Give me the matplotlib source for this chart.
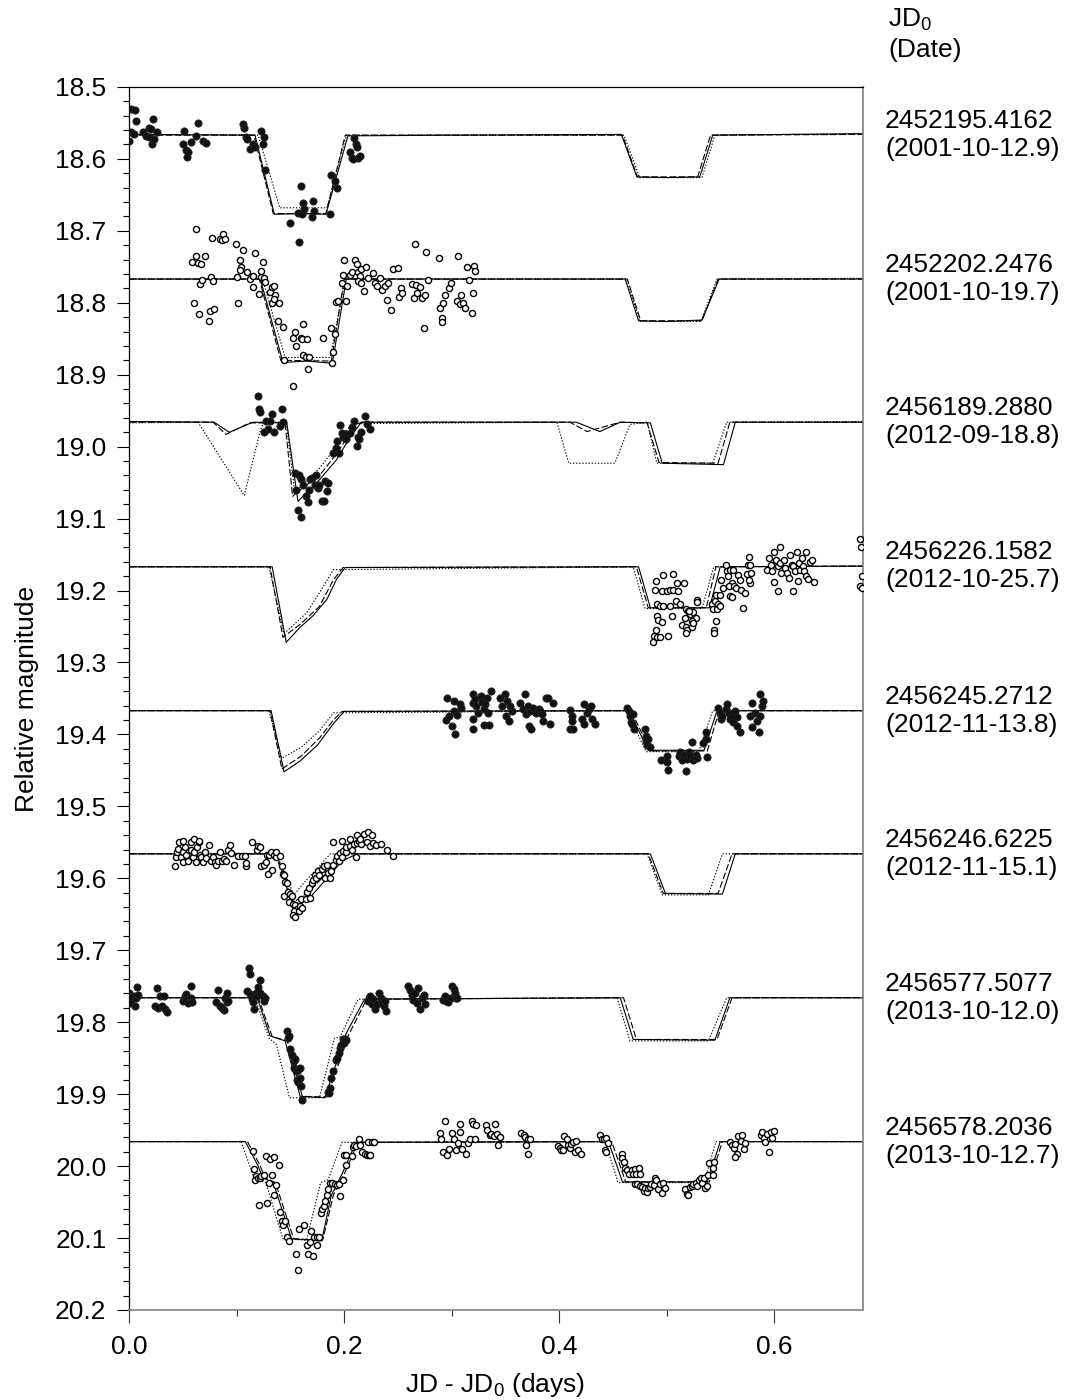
"""
Light curves of the eclipsing system on eight nights, stacked with a
0.2 mag offset, with three model fits (solid, dashed, dotted) on each.
"""
import matplotlib
matplotlib.use("Agg")
import matplotlib.pyplot as plt
import matplotlib.transforms as mtransforms
from matplotlib.ticker import MultipleLocator, FixedLocator, FormatStrFormatter

plt.rcParams["font.family"] = ["Liberation Sans", "DejaVu Sans"]
plt.rcParams["mathtext.fontset"] = "custom"
plt.rcParams["mathtext.rm"] = "Liberation Sans"
plt.rcParams["mathtext.it"] = "Liberation Sans:italic"

X_MAX = 0.6826

# nights: reference epoch and calendar date, and the out-of-eclipse level
JD0 = ["2452195.4162", "2452202.2476", "2456189.2880", "2456226.1582",
       "2456245.2712", "2456246.6225", "2456577.5077", "2456578.2036"]
DATES = ["2001-10-12.9", "2001-10-19.7", "2012-09-18.8", "2012-10-25.7",
         "2012-11-13.8", "2012-11-15.1", "2013-10-12.0", "2013-10-12.7"]
BASELINES = [18.567, 18.767, 18.966, 19.166, 19.367, 19.566, 19.766, 19.966]
FILLED = [True, False, True, False, True, False, True, False]

# ---------------------------------------------------------------------------
# model light curves (x = JD - JD0, y = magnitude)
# ---------------------------------------------------------------------------
P1_SOLID = [(0, 18.566), (0.117, 18.567), (0.135, 18.677), (0.160, 18.676), (0.183, 18.677),
            (0.2035, 18.568), (0.30, 18.567), (0.458, 18.566), (0.4724, 18.625), (0.50, 18.626),
            (0.531, 18.625), (0.543, 18.567), (X_MAX, 18.565)]
P1_DASHED = [(0, 18.567), (0.116, 18.567), (0.134, 18.676), (0.183, 18.676), (0.201, 18.567),
             (0.459, 18.567), (0.473, 18.625), (0.529, 18.625), (0.541, 18.567), (X_MAX, 18.566)]
P1_DOTTED = [(0, 18.566), (0.120, 18.567), (0.140, 18.668), (0.184, 18.668), (0.202, 18.567),
             (0.4605, 18.567), (0.475, 18.626), (0.533, 18.626), (0.545, 18.567), (X_MAX, 18.565)]

P2_SOLID = [(0, 18.767), (0.122, 18.767), (0.143, 18.883), (0.165, 18.881), (0.189, 18.884),
            (0.202, 18.767), (0.4615, 18.767), (0.474, 18.825), (0.50, 18.826), (0.533, 18.824),
            (0.549, 18.767), (X_MAX, 18.767)]
P2_DASHED = [(0, 18.767), (0.121, 18.767), (0.141, 18.880), (0.188, 18.881), (0.200, 18.767),
             (0.4635, 18.767), (0.476, 18.825), (0.533, 18.825), (0.548, 18.767), (X_MAX, 18.767)]
P2_DOTTED = [(0, 18.767), (0.124, 18.767), (0.145, 18.876), (0.187, 18.876), (0.201, 18.767),
             (0.463, 18.767), (0.475, 18.826), (0.532, 18.826), (0.547, 18.767), (X_MAX, 18.766)]

P3_SOLID = [(0, 18.965), (0.079, 18.966), (0.093, 18.980), (0.115, 18.966), (0.1466, 18.967),
            (0.157, 19.076), (0.177, 19.046), (0.193, 19.018), (0.205, 18.988), (0.216, 18.966),
            (0.416, 18.966), (0.438, 18.979), (0.457, 18.966), (0.485, 18.967), (0.496, 19.023),
            (0.553, 19.025), (0.564, 18.966), (X_MAX, 18.966)]
P3_DASHED = [(0, 18.966), (0.078, 18.966), (0.090, 18.983), (0.112, 18.967), (0.145, 18.967),
             (0.152, 19.069), (0.159, 19.060), (0.177, 19.040), (0.193, 19.010), (0.210, 18.970),
             (0.216, 18.966), (0.410, 18.966), (0.426, 18.979), (0.457, 18.966), (0.482, 18.967),
             (0.493, 19.022), (0.548, 19.023), (0.559, 18.966), (X_MAX, 18.966)]
P3_DOTTED = [(0, 18.967), (0.064, 18.966), (0.107, 19.068), (0.1217, 18.979), (0.125, 18.966),
             (0.146, 18.966), (0.154, 19.063), (0.177, 19.030), (0.189, 19.007), (0.207, 18.968),
             (0.398, 18.966), (0.409, 19.023), (0.452, 19.023), (0.466, 18.969), (0.482, 18.966),
             (0.491, 19.023), (0.543, 19.023), (0.556, 18.966), (X_MAX, 18.965)]

P4_SOLID = [(0, 19.167), (0.133, 19.167), (0.146, 19.272), (0.159, 19.251), (0.171, 19.235),
            (0.184, 19.212), (0.193, 19.184), (0.201, 19.168), (0.474, 19.167), (0.485, 19.224),
            (0.540, 19.224), (0.550, 19.167), (X_MAX, 19.166)]
P4_DASHED = [(0, 19.167), (0.131, 19.167), (0.143, 19.265), (0.159, 19.247), (0.177, 19.222),
             (0.190, 19.185), (0.199, 19.168), (0.472, 19.167), (0.483, 19.224), (0.537, 19.224),
             (0.546, 19.167), (X_MAX, 19.166)]
P4_DOTTED = [(0, 19.167), (0.130, 19.167), (0.144, 19.260), (0.165, 19.231), (0.177, 19.203),
             (0.190, 19.171), (0.469, 19.167), (0.480, 19.225), (0.533, 19.225), (0.544, 19.167),
             (X_MAX, 19.166)]

P5_SOLID = [(0, 19.367), (0.132, 19.367), (0.144, 19.452), (0.159, 19.437), (0.175, 19.415),
            (0.190, 19.385), (0.200, 19.368), (0.465, 19.367), (0.483, 19.422), (0.535, 19.422),
            (0.547, 19.367), (X_MAX, 19.367)]
P5_DASHED = [(0, 19.367), (0.131, 19.367), (0.142, 19.448), (0.160, 19.430), (0.177, 19.405),
             (0.190, 19.380), (0.198, 19.368), (0.467, 19.367), (0.485, 19.423), (0.538, 19.423),
             (0.549, 19.367), (X_MAX, 19.367)]
P5_DOTTED = [(0, 19.367), (0.130, 19.367), (0.142, 19.433), (0.160, 19.418), (0.177, 19.395),
             (0.190, 19.370), (0.463, 19.367), (0.481, 19.424), (0.530, 19.424), (0.543, 19.367),
             (X_MAX, 19.367)]

P6_SOLID = [(0, 19.566), (0.137, 19.566), (0.143, 19.593), (0.149, 19.627), (0.154, 19.640),
            (0.168, 19.627), (0.184, 19.600), (0.198, 19.576), (0.212, 19.566), (0.485, 19.566),
            (0.499, 19.621), (0.552, 19.622), (0.564, 19.566), (X_MAX, 19.566)]
P6_DASHED = [(0, 19.566), (0.136, 19.566), (0.145, 19.605), (0.153, 19.633), (0.168, 19.618),
             (0.184, 19.592), (0.197, 19.572), (0.205, 19.566), (0.483, 19.566), (0.497, 19.621),
             (0.548, 19.621), (0.561, 19.566), (X_MAX, 19.566)]
P6_DOTTED = [(0, 19.566), (0.137, 19.566), (0.147, 19.602), (0.153, 19.623), (0.165, 19.602),
             (0.177, 19.583), (0.187, 19.566), (0.482, 19.566), (0.496, 19.623), (0.539, 19.623),
             (0.552, 19.566), (X_MAX, 19.566)]

P7_SOLID = [(0, 19.766), (0.119, 19.766), (0.131, 19.819), (0.145, 19.826), (0.159, 19.903),
            (0.182, 19.905), (0.202, 19.815), (0.219, 19.768), (0.457, 19.766), (0.469, 19.824),
            (0.545, 19.825), (0.559, 19.766), (X_MAX, 19.766)]
P7_DASHED = [(0, 19.766), (0.120, 19.766), (0.133, 19.820), (0.147, 19.826), (0.161, 19.903),
             (0.184, 19.904), (0.204, 19.818), (0.221, 19.768), (0.460, 19.766), (0.472, 19.824),
             (0.547, 19.824), (0.561, 19.766), (X_MAX, 19.766)]
P7_DOTTED = [(0, 19.766), (0.117, 19.766), (0.130, 19.822), (0.137, 19.831), (0.149, 19.905),
             (0.177, 19.905), (0.191, 19.822), (0.196, 19.821), (0.213, 19.768), (0.454, 19.766),
             (0.466, 19.826), (0.539, 19.826), (0.556, 19.766), (X_MAX, 19.766)]

P8_SOLID = [(0, 19.966), (0.108, 19.966), (0.120, 20.000), (0.124, 20.016), (0.134, 20.023),
            (0.151, 20.101), (0.179, 20.104), (0.188, 20.041), (0.192, 20.029), (0.198, 20.011),
            (0.211, 19.967), (0.446, 19.966), (0.459, 20.022), (0.538, 20.022), (0.550, 19.966),
            (X_MAX, 19.966)]
P8_DASHED = [(0, 19.966), (0.110, 19.966), (0.122, 20.000), (0.126, 20.016), (0.136, 20.023),
             (0.153, 20.101), (0.180, 20.103), (0.190, 20.040), (0.194, 20.028), (0.200, 20.011),
             (0.213, 19.967), (0.449, 19.966), (0.462, 20.022), (0.540, 20.022), (0.552, 19.966),
             (X_MAX, 19.966)]
P8_DOTTED = [(0, 19.966), (0.104, 19.966), (0.116, 20.016), (0.127, 20.023), (0.143, 20.101),
             (0.165, 20.103), (0.178, 20.023), (0.185, 20.019), (0.198, 19.967), (0.443, 19.966),
             (0.455, 20.023), (0.535, 20.023), (0.546, 19.966), (X_MAX, 19.966)]

# ---------------------------------------------------------------------------
# photometry (x = JD - JD0, y = magnitude)
# ---------------------------------------------------------------------------
P1_DATA = [(0.000, 18.575), (0.002, 18.531), (0.005, 18.532), (0.002, 18.562), (0.006, 18.548),
           (0.004, 18.566), (0.013, 18.563), (0.016, 18.568), (0.018, 18.557), (0.020, 18.558),
           (0.022, 18.545), (0.021, 18.580), (0.023, 18.573), (0.026, 18.563), (0.018, 18.569),
           (0.050, 18.579), (0.051, 18.561), (0.053, 18.587), (0.055, 18.590), (0.054, 18.598),
           (0.057, 18.577), (0.062, 18.568), (0.064, 18.550), (0.069, 18.575), (0.071, 18.578),
           (0.106, 18.551), (0.107, 18.557), (0.109, 18.569), (0.110, 18.573), (0.112, 18.586),
           (0.115, 18.579), (0.117, 18.583), (0.123, 18.561), (0.125, 18.570), (0.124, 18.580),
           (0.126, 18.615), (0.150, 18.689), (0.160, 18.637), (0.157, 18.675), (0.162, 18.661),
           (0.161, 18.677), (0.163, 18.670), (0.158, 18.715), (0.170, 18.681), (0.171, 18.658),
           (0.172, 18.672), (0.187, 18.676), (0.188, 18.622), (0.191, 18.631), (0.193, 18.641),
           (0.205, 18.591), (0.207, 18.599), (0.209, 18.571), (0.211, 18.580), (0.212, 18.583),
           (0.213, 18.599), (0.215, 18.596), (0.208, 18.600)]

P2_DATA = [(0.0625, 18.697), (0.0586, 18.744), (0.062, 18.735), (0.064, 18.745), (0.067, 18.746),
           (0.070, 18.735), (0.066, 18.774), (0.068, 18.769), (0.076, 18.764), (0.078, 18.770),
           (0.060, 18.800), (0.065, 18.815), (0.074, 18.825), (0.075, 18.812), (0.079, 18.809),
           (0.077, 18.710), (0.084, 18.711), (0.086, 18.713), (0.087, 18.705), (0.089, 18.711),
           (0.099, 18.719), (0.101, 18.800), (0.100, 18.764), (0.103, 18.740), (0.106, 18.727),
           (0.104, 18.750), (0.103, 18.754), (0.110, 18.757), (0.112, 18.767), (0.115, 18.763),
           (0.115, 18.778), (0.117, 18.731), (0.121, 18.788), (0.123, 18.764), (0.123, 18.756),
           (0.124, 18.743), (0.125, 18.766), (0.126, 18.771), (0.131, 18.785), (0.133, 18.778),
           (0.135, 18.776), (0.133, 18.801), (0.136, 18.789), (0.135, 18.795), (0.139, 18.800),
           (0.138, 18.826), (0.143, 18.834), (0.152, 18.849), (0.154, 18.841), (0.155, 18.860),
           (0.162, 18.829), (0.160, 18.849), (0.161, 18.851), (0.165, 18.850), (0.144, 18.879),
           (0.162, 18.873), (0.164, 18.876), (0.167, 18.876), (0.166, 18.892), (0.152, 18.916),
           (0.180, 18.849), (0.188, 18.835), (0.191, 18.843), (0.190, 18.869), (0.189, 18.884),
           (0.192, 18.799), (0.194, 18.798), (0.202, 18.798), (0.198, 18.773), (0.199, 18.761),
           (0.200, 18.740), (0.203, 18.777), (0.205, 18.761), (0.207, 18.757), (0.210, 18.740),
           (0.212, 18.746), (0.213, 18.757), (0.215, 18.763), (0.216, 18.753), (0.213, 18.770),
           (0.216, 18.772), (0.218, 18.784), (0.220, 18.750), (0.222, 18.766), (0.227, 18.758),
           (0.229, 18.772), (0.231, 18.776), (0.233, 18.766), (0.235, 18.782), (0.238, 18.777),
           (0.240, 18.796), (0.241, 18.772), (0.244, 18.810), (0.245, 18.753), (0.250, 18.752),
           (0.251, 18.792), (0.253, 18.780), (0.254, 18.786), (0.263, 18.774), (0.265, 18.793),
           (0.266, 18.718), (0.267, 18.775), (0.268, 18.786), (0.271, 18.778), (0.272, 18.793),
           (0.274, 18.835), (0.275, 18.789), (0.276, 18.730), (0.278, 18.769), (0.288, 18.738),
           (0.289, 18.807), (0.291, 18.821), (0.291, 18.827), (0.292, 18.800), (0.294, 18.789),
           (0.298, 18.780), (0.299, 18.772), (0.306, 18.735), (0.305, 18.798), (0.308, 18.802),
           (0.309, 18.789), (0.311, 18.800), (0.312, 18.807), (0.314, 18.750), (0.316, 18.769),
           (0.319, 18.814), (0.320, 18.786), (0.321, 18.749), (0.322, 18.756)]

P3_DATA = [(0.120, 18.929), (0.121, 18.947), (0.122, 18.952), (0.127, 18.965), (0.129, 18.976),
           (0.125, 18.979), (0.131, 18.965), (0.133, 18.955), (0.135, 18.980), (0.140, 18.971),
           (0.142, 18.948), (0.143, 18.966), (0.154, 19.037), (0.155, 19.060), (0.158, 19.039),
           (0.160, 19.045), (0.162, 19.053), (0.157, 19.088), (0.160, 19.098), (0.164, 19.069),
           (0.166, 19.077), (0.167, 19.060), (0.168, 19.045), (0.170, 19.043), (0.174, 19.039),
           (0.173, 19.053), (0.176, 19.058), (0.177, 19.053), (0.179, 19.075), (0.181, 19.075),
           (0.182, 19.048), (0.185, 19.050), (0.184, 19.062), (0.190, 19.009), (0.192, 19.002),
           (0.193, 18.992), (0.195, 19.009), (0.196, 18.970), (0.198, 18.981), (0.199, 18.986),
           (0.201, 18.983), (0.202, 18.989), (0.205, 18.981), (0.207, 18.972), (0.209, 18.964),
           (0.212, 18.999), (0.213, 18.986), (0.214, 18.989), (0.216, 18.980), (0.219, 18.958),
           (0.221, 18.968), (0.224, 18.975)]

P4_DATA = [(0.490, 19.255), (0.488, 19.263), (0.487, 19.271), (0.491, 19.264), (0.494, 19.264),
           (0.501, 19.263), (0.491, 19.235), (0.492, 19.241), (0.496, 19.244), (0.491, 19.219),
           (0.494, 19.222), (0.497, 19.221), (0.503, 19.222), (0.505, 19.235), (0.490, 19.187),
           (0.497, 19.178), (0.506, 19.177), (0.496, 19.201), (0.500, 19.200), (0.503, 19.199),
           (0.506, 19.199), (0.510, 19.189), (0.511, 19.201), (0.516, 19.190), (0.489, 19.199),
           (0.509, 19.214), (0.513, 19.219), (0.518, 19.225), (0.520, 19.229), (0.522, 19.233),
           (0.525, 19.230), (0.527, 19.238), (0.524, 19.243), (0.517, 19.238), (0.514, 19.248),
           (0.518, 19.250), (0.519, 19.255), (0.518, 19.259), (0.524, 19.250), (0.525, 19.245),
           (0.521, 19.229), (0.528, 19.213), (0.528, 19.216), (0.544, 19.255), (0.544, 19.259),
           (0.542, 19.219), (0.543, 19.226), (0.546, 19.243), (0.547, 19.226), (0.545, 19.214),
           (0.546, 19.206), (0.548, 19.219), (0.550, 19.222), (0.550, 19.206), (0.551, 19.185),
           (0.553, 19.197), (0.555, 19.164), (0.556, 19.173), (0.557, 19.180), (0.559, 19.171),
           (0.561, 19.189), (0.562, 19.171), (0.558, 19.193), (0.559, 19.208), (0.561, 19.209),
           (0.563, 19.194), (0.565, 19.197), (0.567, 19.178), (0.568, 19.185), (0.569, 19.199),
           (0.571, 19.224), (0.573, 19.203), (0.575, 19.177), (0.576, 19.165), (0.577, 19.153),
           (0.578, 19.164), (0.579, 19.175), (0.578, 19.189), (0.577, 19.186), (0.594, 19.171),
           (0.595, 19.155), (0.597, 19.165), (0.598, 19.173), (0.600, 19.188), (0.600, 19.146),
           (0.602, 19.158), (0.604, 19.200), (0.604, 19.166), (0.606, 19.139), (0.606, 19.162),
           (0.607, 19.175), (0.609, 19.157), (0.610, 19.169), (0.612, 19.175), (0.614, 19.182),
           (0.615, 19.151), (0.617, 19.164), (0.618, 19.200), (0.618, 19.166), (0.620, 19.173),
           (0.621, 19.146), (0.622, 19.187), (0.623, 19.162), (0.624, 19.171), (0.626, 19.155),
           (0.627, 19.166), (0.628, 19.173), (0.630, 19.147), (0.630, 19.180), (0.632, 19.184),
           (0.634, 19.160), (0.635, 19.158), (0.637, 19.188), (0.680, 19.129), (0.681, 19.139),
           (0.682, 19.180), (0.680, 19.193), (0.682, 19.196)]

P5_DATA = [(0.296, 19.350), (0.295, 19.380), (0.298, 19.375), (0.300, 19.388), (0.302, 19.353),
           (0.302, 19.367), (0.303, 19.399), (0.305, 19.373), (0.308, 19.358), (0.309, 19.363),
           (0.320, 19.344), (0.320, 19.356), (0.322, 19.351), (0.323, 19.360), (0.325, 19.370),
           (0.327, 19.347), (0.328, 19.355), (0.330, 19.365), (0.331, 19.358), (0.333, 19.350),
           (0.334, 19.370), (0.337, 19.339), (0.320, 19.392), (0.320, 19.379), (0.330, 19.387),
           (0.335, 19.387), (0.345, 19.350), (0.347, 19.360), (0.350, 19.344), (0.352, 19.353),
           (0.351, 19.375), (0.353, 19.381), (0.354, 19.360), (0.356, 19.367), (0.364, 19.356),
           (0.366, 19.365), (0.368, 19.344), (0.369, 19.372), (0.371, 19.360), (0.372, 19.388),
           (0.373, 19.367), (0.374, 19.393), (0.376, 19.363), (0.379, 19.370), (0.381, 19.364),
           (0.382, 19.367), (0.384, 19.371), (0.385, 19.381), (0.388, 19.350), (0.390, 19.349),
           (0.392, 19.386), (0.394, 19.356), (0.410, 19.366), (0.412, 19.374), (0.410, 19.392),
           (0.413, 19.392), (0.412, 19.381), (0.421, 19.379), (0.423, 19.386), (0.423, 19.358),
           (0.426, 19.370), (0.428, 19.365), (0.430, 19.360), (0.431, 19.378), (0.433, 19.386),
           (0.463, 19.363), (0.465, 19.367), (0.466, 19.374), (0.467, 19.383), (0.469, 19.372),
           (0.470, 19.392), (0.468, 19.385), (0.480, 19.393), (0.481, 19.402), (0.481, 19.409),
           (0.483, 19.406), (0.482, 19.415), (0.485, 19.418), (0.495, 19.435), (0.500, 19.430),
           (0.500, 19.439), (0.501, 19.449), (0.512, 19.430), (0.513, 19.425), (0.514, 19.435),
           (0.516, 19.429), (0.519, 19.434), (0.518, 19.451), (0.521, 19.425), (0.522, 19.430),
           (0.524, 19.410), (0.525, 19.436), (0.527, 19.428), (0.528, 19.433), (0.534, 19.412),
           (0.537, 19.407), (0.538, 19.431), (0.537, 19.396), (0.548, 19.363), (0.550, 19.370),
           (0.551, 19.379), (0.552, 19.375), (0.555, 19.365), (0.556, 19.358), (0.558, 19.370),
           (0.559, 19.379), (0.561, 19.374), (0.562, 19.383), (0.564, 19.368), (0.566, 19.376),
           (0.568, 19.396), (0.566, 19.388), (0.578, 19.375), (0.580, 19.356), (0.582, 19.370),
           (0.584, 19.381), (0.586, 19.397), (0.587, 19.344), (0.589, 19.360), (0.590, 19.353),
           (0.580, 19.389), (0.587, 19.375)]

P6_DATA = [(0.0426, 19.583), (0.0435, 19.571), (0.0441, 19.564), (0.0456, 19.559), (0.0466, 19.550),
           (0.048, 19.571), (0.050, 19.577), (0.050, 19.564), (0.052, 19.556), (0.053, 19.568),
           (0.055, 19.576), (0.057, 19.550), (0.057, 19.560), (0.059, 19.571), (0.060, 19.564),
           (0.062, 19.577), (0.063, 19.557), (0.065, 19.550), (0.066, 19.567), (0.067, 19.571),
           (0.069, 19.578), (0.070, 19.563), (0.071, 19.572), (0.074, 19.554), (0.076, 19.576),
           (0.078, 19.571), (0.080, 19.578), (0.081, 19.582), (0.083, 19.576), (0.084, 19.563),
           (0.086, 19.576), (0.088, 19.573), (0.090, 19.576), (0.092, 19.561), (0.094, 19.554),
           (0.095, 19.565), (0.097, 19.581), (0.101, 19.569), (0.105, 19.569), (0.109, 19.583),
           (0.109, 19.579), (0.108, 19.569), (0.114, 19.550), (0.119, 19.561), (0.120, 19.555),
           (0.122, 19.557), (0.123, 19.583), (0.125, 19.582), (0.127, 19.578), (0.129, 19.594),
           (0.128, 19.568), (0.130, 19.567), (0.132, 19.564), (0.133, 19.589), (0.135, 19.567),
           (0.137, 19.571), (0.137, 19.563), (0.140, 19.569), (0.142, 19.583), (0.143, 19.594),
           (0.144, 19.596), (0.145, 19.605), (0.147, 19.606), (0.144, 19.624), (0.148, 19.619),
           (0.150, 19.622), (0.151, 19.625), (0.149, 19.633), (0.152, 19.636), (0.154, 19.637),
           (0.156, 19.642), (0.153, 19.646), (0.152, 19.651), (0.154, 19.654), (0.158, 19.645),
           (0.159, 19.639), (0.161, 19.641), (0.160, 19.629), (0.164, 19.629), (0.165, 19.619),
           (0.167, 19.613), (0.168, 19.627), (0.170, 19.606), (0.171, 19.602), (0.173, 19.595),
           (0.174, 19.599), (0.176, 19.590), (0.177, 19.595), (0.179, 19.587), (0.181, 19.583),
           (0.182, 19.600), (0.184, 19.581), (0.185, 19.593), (0.187, 19.600), (0.188, 19.590),
           (0.190, 19.582), (0.192, 19.574), (0.193, 19.569), (0.195, 19.576), (0.196, 19.565),
           (0.198, 19.571), (0.199, 19.562), (0.202, 19.564), (0.202, 19.557), (0.205, 19.555),
           (0.207, 19.560), (0.209, 19.552), (0.211, 19.571), (0.212, 19.551), (0.214, 19.548),
           (0.216, 19.552), (0.221, 19.549), (0.224, 19.555), (0.227, 19.551), (0.230, 19.554),
           (0.234, 19.552), (0.240, 19.560), (0.245, 19.569), (0.205, 19.545), (0.212, 19.540),
           (0.218, 19.538), (0.222, 19.536), (0.226, 19.540), (0.215, 19.545), (0.190, 19.550),
           (0.198, 19.548), (0.060, 19.545), (0.065, 19.548), (0.050, 19.548)]

P7_DATA = [(0.000, 19.759), (0.0006, 19.766), (0.002, 19.773), (0.004, 19.764), (0.005, 19.777),
           (0.007, 19.751), (0.006, 19.767), (0.008, 19.762), (0.024, 19.777), (0.026, 19.752),
           (0.027, 19.780), (0.029, 19.764), (0.030, 19.777), (0.032, 19.764), (0.033, 19.781),
           (0.035, 19.786), (0.050, 19.770), (0.052, 19.764), (0.053, 19.761), (0.055, 19.773),
           (0.057, 19.767), (0.057, 19.749), (0.058, 19.772), (0.081, 19.772), (0.083, 19.755),
           (0.084, 19.777), (0.086, 19.780), (0.088, 19.783), (0.089, 19.766), (0.091, 19.772),
           (0.091, 19.759), (0.092, 19.770), (0.111, 19.725), (0.112, 19.733), (0.110, 19.756),
           (0.112, 19.761), (0.114, 19.768), (0.115, 19.772), (0.116, 19.781), (0.118, 19.759),
           (0.119, 19.764), (0.120, 19.751), (0.122, 19.741), (0.122, 19.760), (0.124, 19.763),
           (0.125, 19.771), (0.126, 19.766), (0.147, 19.812), (0.148, 19.822), (0.149, 19.819),
           (0.150, 19.837), (0.151, 19.845), (0.153, 19.854), (0.154, 19.851), (0.153, 19.863),
           (0.155, 19.868), (0.157, 19.866), (0.159, 19.864), (0.156, 19.880), (0.157, 19.883),
           (0.159, 19.877), (0.160, 19.888), (0.161, 19.908), (0.185, 19.897), (0.187, 19.891),
           (0.186, 19.898), (0.188, 19.878), (0.190, 19.868), (0.192, 19.853), (0.193, 19.850),
           (0.195, 19.843), (0.196, 19.836), (0.197, 19.831), (0.199, 19.824), (0.200, 19.829),
           (0.201, 19.824), (0.202, 19.825), (0.222, 19.771), (0.223, 19.767), (0.224, 19.764),
           (0.226, 19.774), (0.227, 19.768), (0.229, 19.782), (0.231, 19.774), (0.232, 19.759),
           (0.234, 19.767), (0.235, 19.773), (0.237, 19.777), (0.238, 19.770), (0.239, 19.785),
           (0.259, 19.749), (0.261, 19.755), (0.263, 19.762), (0.264, 19.769), (0.266, 19.759),
           (0.268, 19.773), (0.269, 19.752), (0.271, 19.781), (0.272, 19.766), (0.274, 19.762),
           (0.275, 19.774), (0.292, 19.769), (0.294, 19.764), (0.295, 19.770), (0.297, 19.772),
           (0.299, 19.766), (0.300, 19.750), (0.302, 19.754), (0.303, 19.759), (0.304, 19.766),
           (0.305, 19.767)]

P8_DATA = [(0.115, 19.979), (0.116, 20.004), (0.118, 20.014), (0.117, 20.019), (0.120, 20.017),
           (0.122, 20.016), (0.123, 20.014), (0.125, 20.012), (0.121, 20.054), (0.128, 20.051),
           (0.127, 19.986), (0.131, 19.990), (0.135, 19.988), (0.133, 20.012), (0.130, 20.023),
           (0.137, 20.026), (0.135, 20.040), (0.139, 19.999), (0.140, 20.064), (0.142, 20.077),
           (0.143, 20.082), (0.145, 20.076), (0.147, 20.098), (0.149, 20.104), (0.155, 20.122),
           (0.157, 20.145), (0.158, 20.087), (0.163, 20.082), (0.165, 20.110), (0.166, 20.122),
           (0.168, 20.106), (0.169, 20.090), (0.171, 20.125), (0.172, 20.098), (0.175, 20.109),
           (0.175, 20.098), (0.177, 20.099), (0.178, 20.065), (0.179, 20.059), (0.181, 20.055),
           (0.182, 20.049), (0.184, 20.040), (0.185, 20.032), (0.187, 20.023), (0.189, 20.024),
           (0.191, 20.025), (0.193, 20.026), (0.195, 20.025), (0.196, 20.042), (0.199, 20.020),
           (0.202, 19.999), (0.200, 19.985), (0.202, 19.984), (0.207, 19.986), (0.208, 19.974),
           (0.209, 19.971), (0.211, 19.972), (0.214, 19.962), (0.215, 19.970), (0.217, 19.981),
           (0.219, 19.983), (0.221, 19.984), (0.223, 19.985), (0.224, 19.985), (0.222, 19.966),
           (0.226, 19.966), (0.228, 19.967), (0.289, 19.954), (0.290, 19.963), (0.292, 19.980),
           (0.294, 19.938), (0.296, 19.985), (0.298, 19.976), (0.300, 19.954), (0.302, 19.963),
           (0.304, 19.977), (0.306, 19.968), (0.308, 19.941), (0.308, 19.953), (0.310, 19.976),
           (0.313, 19.983), (0.315, 19.968), (0.317, 19.963), (0.319, 19.937), (0.320, 19.942),
           (0.322, 19.963), (0.323, 19.943), (0.332, 19.943), (0.333, 19.950), (0.336, 19.957),
           (0.337, 19.955), (0.339, 19.958), (0.340, 19.941), (0.342, 19.955), (0.343, 19.971),
           (0.345, 19.960), (0.365, 19.954), (0.367, 19.957), (0.368, 19.960), (0.369, 19.971),
           (0.371, 19.983), (0.371, 19.963), (0.373, 19.963), (0.399, 19.972), (0.401, 19.975),
           (0.402, 19.977), (0.404, 19.978), (0.405, 19.958), (0.407, 19.963), (0.408, 19.971),
           (0.410, 19.975), (0.411, 19.969), (0.413, 19.966), (0.415, 19.981), (0.416, 19.965),
           (0.418, 19.977), (0.420, 19.983), (0.438, 19.957), (0.440, 19.963), (0.442, 19.963),
           (0.444, 19.961), (0.446, 19.968), (0.443, 19.977), (0.444, 19.981), (0.459, 19.983),
           (0.459, 19.989), (0.460, 19.995), (0.461, 20.002), (0.463, 20.006), (0.465, 20.011),
           (0.468, 20.005), (0.469, 20.011), (0.471, 20.004), (0.472, 20.011), (0.474, 20.002),
           (0.475, 20.011), (0.471, 20.025), (0.473, 20.025), (0.475, 20.027), (0.477, 20.029),
           (0.479, 20.035), (0.480, 20.031), (0.482, 20.036), (0.483, 20.031), (0.485, 20.029),
           (0.486, 20.025), (0.488, 20.026), (0.489, 20.016), (0.490, 20.020), (0.492, 20.032),
           (0.494, 20.025), (0.496, 20.038), (0.497, 20.023), (0.499, 20.031), (0.517, 20.032),
           (0.519, 20.039), (0.520, 20.040), (0.522, 20.029), (0.524, 20.027), (0.525, 20.025),
           (0.527, 20.023), (0.528, 20.027), (0.530, 20.020), (0.532, 20.016), (0.533, 20.024),
           (0.535, 20.017), (0.536, 20.031), (0.538, 20.027), (0.539, 20.013), (0.540, 19.996),
           (0.543, 20.002), (0.543, 20.013), (0.544, 19.994), (0.559, 19.966), (0.561, 19.971),
           (0.563, 19.975), (0.564, 19.969), (0.566, 19.983), (0.567, 19.958), (0.569, 19.965),
           (0.570, 19.957), (0.572, 19.976), (0.573, 19.968), (0.564, 19.987), (0.588, 19.957),
           (0.589, 19.953), (0.591, 19.961), (0.592, 19.966), (0.594, 19.955), (0.595, 19.980),
           (0.597, 19.953), (0.598, 19.961), (0.600, 19.951)]

MODELS = [
    (P1_SOLID, P1_DASHED, P1_DOTTED), (P2_SOLID, P2_DASHED, P2_DOTTED),
    (P3_SOLID, P3_DASHED, P3_DOTTED), (P4_SOLID, P4_DASHED, P4_DOTTED),
    (P5_SOLID, P5_DASHED, P5_DOTTED), (P6_SOLID, P6_DASHED, P6_DOTTED),
    (P7_SOLID, P7_DASHED, P7_DOTTED), (P8_SOLID, P8_DASHED, P8_DOTTED),
]
DATA = [P1_DATA, P2_DATA, P3_DATA, P4_DATA, P5_DATA, P6_DATA, P7_DATA, P8_DATA]

FONT = 19
FRAME_GREY = "#808080"

fig = plt.figure(figsize=(10.73, 14.0), dpi=100)
ax = fig.add_axes([0.1205, 0.0643, 0.6835, 0.8736])

# model curves under the points
line_styles = [dict(linestyle="-"),
               dict(linestyle=(0, (6.0, 2.2))),
               dict(linestyle=(0, (1.2, 1.6)))]
for solid, dashed, dotted in MODELS:
    for curve, style in zip((solid, dashed, dotted), line_styles):
        xs, ys = zip(*curve)
        ax.plot(xs, ys, color="black", linewidth=0.8, zorder=2, **style)

for pts, filled in zip(DATA, FILLED):
    xs, ys = zip(*pts)
    if filled:
        ax.plot(xs, ys, "o", ms=5.2, mfc="#111111", mec="#222222", mew=0.6,
                linestyle="none", zorder=3)
    else:
        ax.plot(xs, ys, "o", ms=4.4, mfc="white", mec="black", mew=1.0,
                linestyle="none", zorder=3)

ax.set_xlim(0, X_MAX)
ax.set_ylim(20.2, 18.5)

ax.yaxis.set_major_locator(MultipleLocator(0.1))
ax.yaxis.set_minor_locator(MultipleLocator(0.02))
ax.yaxis.set_major_formatter(FormatStrFormatter("%.1f"))
ax.xaxis.set_major_locator(FixedLocator([0.0, 0.2, 0.4, 0.6]))
ax.xaxis.set_minor_locator(FixedLocator([0.1, 0.3, 0.5]))
ax.xaxis.set_major_formatter(FormatStrFormatter("%.1f"))

ax.tick_params(axis="both", which="both", direction="out", top=False, right=False,
               labelsize=FONT)
ax.tick_params(axis="y", which="major", length=8.5, width=0.8, pad=8)
ax.tick_params(axis="y", which="minor", length=4.5, width=0.8)
ax.tick_params(axis="x", which="major", length=9, width=0.8, pad=9, color="#333333")
ax.tick_params(axis="x", which="minor", length=4.5, width=0.8, color="#333333")

for side in ("left", "top"):
    ax.spines[side].set_color("black")
    ax.spines[side].set_linewidth(0.9)
for side in ("bottom", "right"):
    ax.spines[side].set_color(FRAME_GREY)
    ax.spines[side].set_linewidth(1.2)

fig.text(0.4618, 0.0107, "JD - JD$_0$ (days)", ha="center", va="center", fontsize=FONT)
fig.text(0.025, 0.501, "Relative magnitude", ha="center", va="center",
         rotation=90, fontsize=FONT)

# epoch labels to the right of each curve
label_tf = mtransforms.blended_transform_factory(fig.transFigure, ax.transData)
for jd, date, base in zip(JD0, DATES, BASELINES):
    ax.text(0.8248, base, f"{jd}\n({date})", transform=label_tf, ha="left", va="center",
            fontsize=FONT, linespacing=1.2, clip_on=False)

fig.text(0.8276, 0.9857, "JD$_0$", ha="left", va="center", fontsize=FONT)
fig.text(0.8276, 0.9643, "(Date)", ha="left", va="center", fontsize=FONT)

fig.savefig("out.png", dpi=100)
